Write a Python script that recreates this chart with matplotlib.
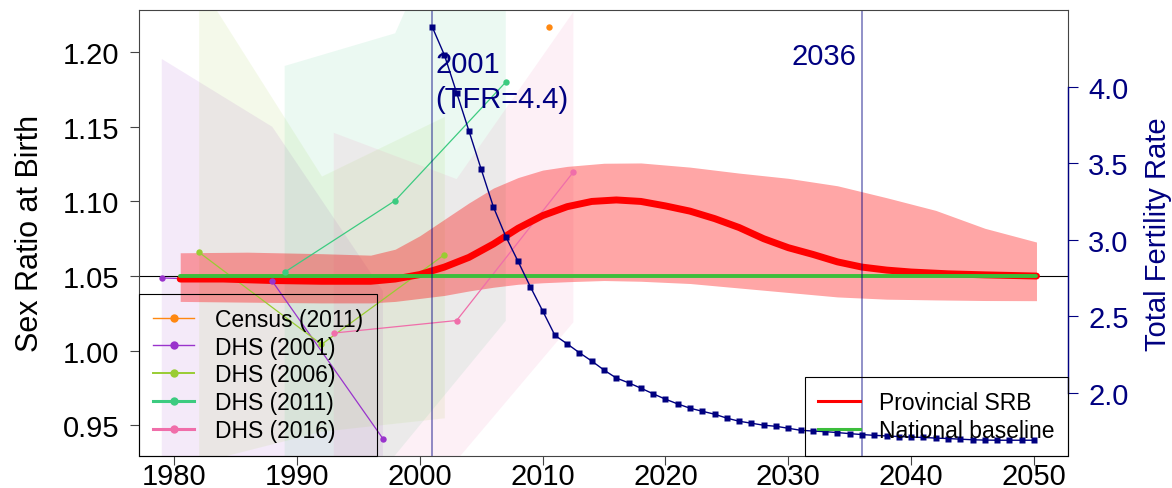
"""
Sex ratio at birth (provincial vs national) with DHS / census series,
overlaid with the total fertility rate on a second axis.
"""

import matplotlib
matplotlib.use("Agg")
import matplotlib.pyplot as plt
from matplotlib.lines import Line2D

plt.rcParams["font.family"] = ["Liberation Sans", "DejaVu Sans"]

# ── Provincial SRB (median + band) ────────────────────────────────────────────
SRB_YEARS = [1980.5, 1984, 1988, 1992, 1996, 1998, 2000, 2002, 2004, 2006,
             2008, 2010, 2012, 2014, 2016, 2018, 2020, 2022, 2024, 2026,
             2028, 2030, 2032, 2034, 2036, 2038, 2040, 2043, 2046, 2050.2]
SRB_MEDIAN = [1.048, 1.048, 1.047, 1.0465, 1.0465, 1.048, 1.051, 1.056, 1.0625, 1.0715,
              1.082, 1.0905, 1.0965, 1.100, 1.101, 1.100, 1.097, 1.0935, 1.0885, 1.0825,
              1.075, 1.069, 1.0645, 1.0595, 1.056, 1.054, 1.0527, 1.0515, 1.0508, 1.050]

BAND_YEARS = [1980.5, 1986, 1992, 1996, 1998, 2000, 2002, 2004, 2006, 2008,
              2010, 2012, 2015, 2018, 2022, 2026, 2030, 2034, 2038, 2042,
              2046, 2050.2]
BAND_UPPER = [1.0656, 1.066, 1.065, 1.064, 1.068, 1.077, 1.088, 1.099, 1.109, 1.116,
              1.121, 1.1235, 1.1256, 1.1258, 1.123, 1.119, 1.1155, 1.1105, 1.1025, 1.094,
              1.082, 1.0728]
BAND_LOWER = [1.033, 1.0325, 1.032, 1.032, 1.033, 1.035, 1.037, 1.040, 1.0425, 1.0445,
              1.0455, 1.0462, 1.047, 1.0465, 1.045, 1.042, 1.039, 1.036, 1.0345, 1.034,
              1.0336, 1.0335]

NATIONAL_SRB = 1.05

# ── Survey series ─────────────────────────────────────────────────────────────
SERIES_NAMES  = ["Census (2011)", "DHS (2001)", "DHS (2006)", "DHS (2011)", "DHS (2016)"]
SERIES_COLORS = ["#FF8811", "#9933CC", "#99CC33", "#3CCB80", "#F06EAA"]
SERIES_YEARS  = [[2010.5], [1979, 1988, 1997], [1982, 1992, 2002],
                 [1989, 1998, 2007], [1993, 2003, 2012.5]]
SERIES_SRB    = [[1.217], [1.0487, 1.0465, 0.941], [1.0661, 1.0042, 1.0643],
                 [1.0526, 1.1006, 1.180], [1.0118, 1.0202, 1.1197]]
SERIES_UPPER  = [None, [1.1955, 1.150, 1.040], [1.247, 1.117, 1.157],
                 [1.1908, 1.2127, 1.380], [1.146, 1.115, 1.227]]
SERIES_LOWER  = [None, [0.90, 0.90, 0.80], [0.925, 0.946, 0.955],
                 [0.85, 0.93, 1.02], [0.88, 0.9265, 1.019]]

# ── Total fertility rate ──────────────────────────────────────────────────────
TFR_YEARS = list(range(2001, 2051))
TFR = [4.393, 4.208, 3.961, 3.712, 3.461, 3.214, 3.022, 2.860, 2.694, 2.537,
       2.377, 2.321, 2.263, 2.209, 2.150, 2.098, 2.067, 2.032, 1.995, 1.960,
       1.929, 1.901, 1.881, 1.862, 1.836, 1.816, 1.803, 1.790, 1.783, 1.770,
       1.757, 1.752, 1.748, 1.742, 1.735, 1.729, 1.724, 1.720, 1.716, 1.713,
       1.710, 1.706, 1.703, 1.699, 1.695, 1.693, 1.692, 1.692, 1.692, 1.692]

MARK_YEARS  = [2001, 2036]
MARK_LABELS = ["2001", "(TFR=4.4)", "2036"]

X_TICKS   = [1980, 1990, 2000, 2010, 2020, 2030, 2040, 2050]
SRB_TICKS = [0.95, 1.00, 1.05, 1.10, 1.15, 1.20]
TFR_TICKS = [2.0, 2.5, 3.0, 3.5, 4.0]

NAVY = "#000080"


def main():
    fig = plt.figure(figsize=(11.72, 4.89), dpi=100)
    ax = fig.add_axes([0.11886, 0.06605, 0.79266, 0.91145])

    # survey uncertainty bands
    for yrs, up, lo, c in zip(SERIES_YEARS, SERIES_UPPER, SERIES_LOWER, SERIES_COLORS):
        if up is None:
            continue
        ax.fill_between(yrs, lo, up, color=c, alpha=0.1, lw=0)

    ax.axhline(NATIONAL_SRB, color="black", lw=0.8)

    # survey lines (under the provincial band)
    for yrs, v, c in zip(SERIES_YEARS, SERIES_SRB, SERIES_COLORS):
        ax.plot(yrs, v, color=c, lw=0.9)

    ax.fill_between(BAND_YEARS, BAND_LOWER, BAND_UPPER, color="red", alpha=0.35, lw=0)
    ax.plot(SRB_YEARS, SRB_MEDIAN, color="red", lw=5, solid_capstyle="round")
    ax.plot([SRB_YEARS[0], SRB_YEARS[-1]], [NATIONAL_SRB, NATIONAL_SRB],
            color="#3CBE3C", lw=2.8, solid_capstyle="round")

    for yrs, v, c in zip(SERIES_YEARS, SERIES_SRB, SERIES_COLORS):
        ax.plot(yrs, v, "o", color=c, ms=4.6, mec="none")

    for yr in MARK_YEARS:
        ax.axvline(yr, color=NAVY, alpha=0.55, lw=1.1)

    # labels next to the marker lines
    for txt, yr, yfrac, dx, ha in zip(MARK_LABELS, [2001, 2001, 2036],
                                      [0.8616, 0.783, 0.8788], [2.5, 2.5, -4.3],
                                      ["left", "left", "right"]):
        ax.annotate(txt, xy=(yr, yfrac), xycoords=("data", "axes fraction"),
                    xytext=(dx, 0), textcoords="offset points", ha=ha, va="baseline",
                    color=NAVY, fontsize=21)

    ax.set_xlim(1977.17, 2052.79)
    ax.set_ylim(0.9296, 1.2283)
    ax.set_xticks(X_TICKS)
    ax.set_yticks(SRB_TICKS)
    ax.set_yticklabels([f"{t:.2f}" for t in SRB_TICKS])
    ax.tick_params(axis="both", labelsize=21, length=6.7, width=0.8, color="#444444")
    ax.tick_params(axis="y", pad=8)
    ax.tick_params(axis="x", pad=-2.5)
    for s in ax.spines.values():
        s.set_color("#444444")
        s.set_linewidth(0.8)
    ax.set_ylabel("Sex Ratio at Birth", fontsize=22)
    ax.yaxis.set_label_coords(-0.101, 0.5)

    leg1 = ax.legend(
        [Line2D([], [], color=c, lw=lw, marker="o", ms=6, mec="none")
         for c, lw in zip(SERIES_COLORS, [1.0, 1.0, 1.4, 2.2, 2.2])],
        SERIES_NAMES, loc="lower left", bbox_to_anchor=(0, 0), borderaxespad=0,
        fontsize=16.5, handlelength=1.8, handletextpad=0.9, labelspacing=0.21,
        borderpad=0.6, fancybox=False, edgecolor="black", framealpha=1)
    leg1.get_frame().set_facecolor("none")
    leg1.get_frame().set_linewidth(0.8)

    # TFR on the right axis
    ax2 = ax.twinx()
    ax2.plot(TFR_YEARS, TFR, color=NAVY, lw=1, marker="s", ms=4.3, mec="none")
    ax2.set_ylim(1.591, 4.501)
    ax2.set_yticks(TFR_TICKS)
    ax2.set_yticklabels([f"{t:.1f}" for t in TFR_TICKS])
    ax2.tick_params(axis="y", labelsize=21, length=7.2, width=0.8, color=NAVY,
                    labelcolor=NAVY, pad=7)
    for k in ("left", "top", "bottom"):
        ax2.spines[k].set_visible(False)
    ax2.spines["right"].set_bounds(TFR_TICKS[0], TFR_TICKS[-1])
    ax2.spines["right"].set_color(NAVY)
    ax2.spines["right"].set_linewidth(1)
    ax2.set_ylabel("Total Fertility Rate", fontsize=21, color=NAVY)
    ax2.yaxis.set_label_coords(1.081, 0.5)

    leg2 = ax2.legend(
        [Line2D([], [], color="red", lw=2.2), Line2D([], [], color="#3CBE3C", lw=2.2)],
        ["Provincial SRB", "National baseline"], loc="lower right",
        bbox_to_anchor=(1, 0), borderaxespad=0, fontsize=16.5, handlelength=1.8,
        handletextpad=0.85, labelspacing=0.21, borderpad=0.6, fancybox=False,
        edgecolor="black", framealpha=1)
    leg2.get_frame().set_facecolor("none")
    leg2.get_frame().set_linewidth(0.8)

    fig.savefig("out.png", dpi=100)
    plt.close(fig)


if __name__ == "__main__":
    main()
